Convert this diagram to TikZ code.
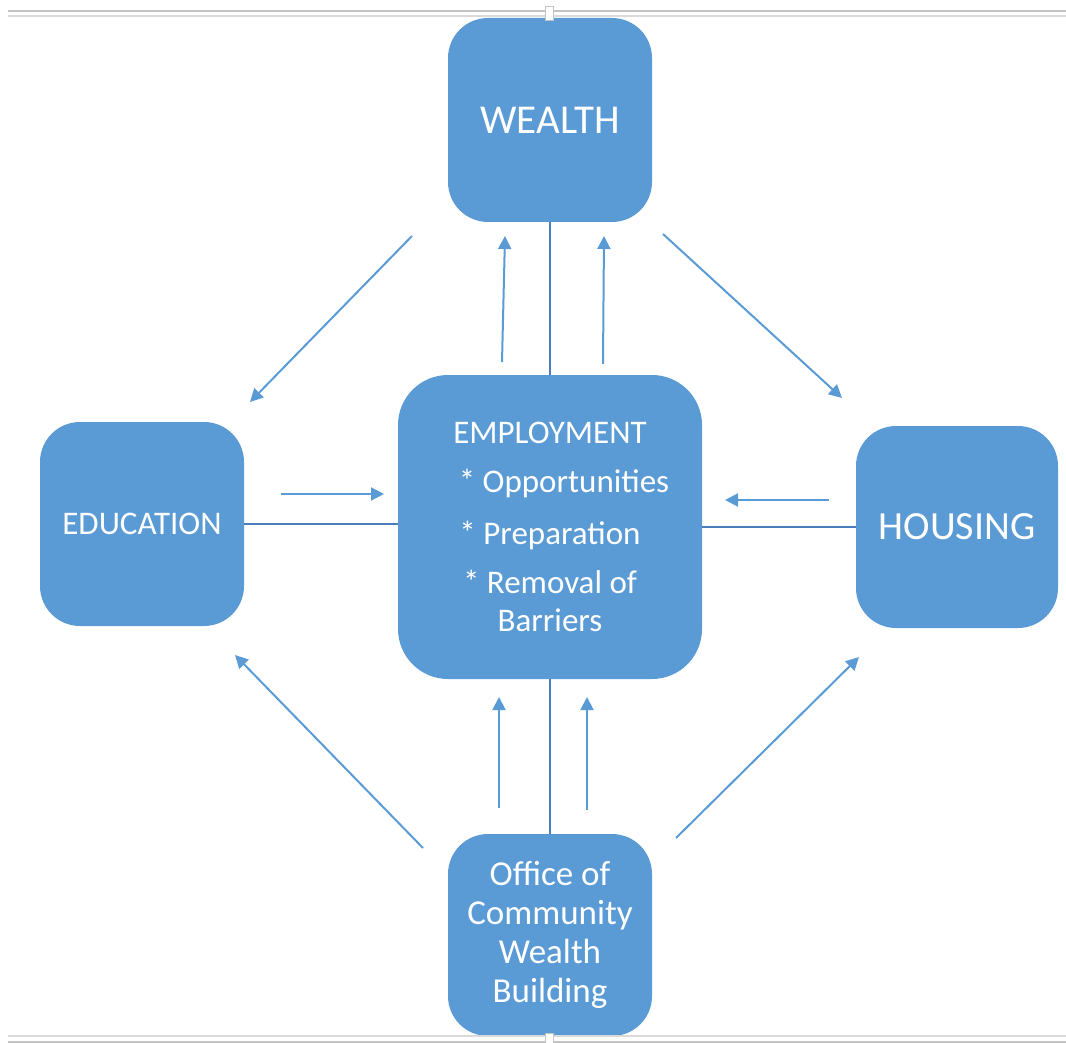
\documentclass[tikz,border=0pt]{standalone}
\usepackage{fontspec}
\setmainfont{Carlito}
\usetikzlibrary{arrows.meta}
\definecolor{boxblue}{HTML}{5B9BD5}
\definecolor{linkblue}{HTML}{4A7EBB}
\definecolor{ruleA}{HTML}{C4C4C4}
\definecolor{ruleB}{HTML}{DADADA}
\begin{document}
\begin{tikzpicture}[x=1pt,y=-1pt,
  box/.style={draw=none, fill=boxblue, rounded corners=40pt, inner sep=0pt, outer sep=0pt,
    text=white, align=center, minimum width=204pt, minimum height=204pt},
  link/.style={draw=linkblue, line width=2pt},
  arr/.style={draw=boxblue, line width=2pt, -{Triangle[length=13pt,width=13pt]}},
  ruleone/.style={draw=ruleA, line width=1.6pt},
  ruletwo/.style={draw=ruleB, line width=1.6pt},
  handle/.style={draw=ruleA, fill=white, line width=0.8pt, inner sep=0pt, minimum width=8pt, minimum height=14pt}]
\useasboundingbox (0,0) rectangle (1066,1043);

% boxes
\node[box, font=\fontsize{41}{48}\selectfont] (wealth) at (550,120) {WEALTH};
\node[box, minimum width=304pt, minimum height=304pt, rounded corners=50pt,
      font=\fontsize{33}{38}\selectfont] (emp) at (550,527)
  {EMPLOYMENT\\[11pt]\hspace*{28pt}* Opportunities\\[14pt]* Preparation\\[11pt]* Removal of\\Barriers};
\node[box, font=\fontsize{33}{39}\selectfont] (edu) at (142,524) {EDUCATION};
\node[box, minimum width=202pt, minimum height=202pt, font=\fontsize{40}{48}\selectfont] (hous) at (957,527) {HOUSING};
\node[box, minimum height=202pt, font=\fontsize{35}{39}\selectfont] (office) at (550,935)
  {Office of\\Community\\Wealth\\Building};

% straight links
\draw[link] (wealth.south) -- (emp.north);
\draw[link] (edu.east) -- (emp.west |- edu.east);
\draw[link] (hous.west) -- (emp.east |- hous.west);
\draw[link] (emp.south) -- (office.north);

% arrow end points
\coordinate (wa1s) at (502,362); \coordinate (wa1e) at (505,236);
\coordinate (wa2s) at (603,364); \coordinate (wa2e) at (604,236);
\coordinate (d1s) at (412,236);  \coordinate (d1e) at (250,402);
\coordinate (d2s) at (663,234);  \coordinate (d2e) at (842,398);
\coordinate (eas) at (281,494);  \coordinate (eae) at (384,494);
\coordinate (has) at (829,500);  \coordinate (hae) at (725,500);
\coordinate (ba1s) at (499,808); \coordinate (ba1e) at (499,697);
\coordinate (ba2s) at (587,810); \coordinate (ba2e) at (587,697);
\coordinate (d3s) at (423,848);  \coordinate (d3e) at (235,655);
\coordinate (d4s) at (676,838);  \coordinate (d4e) at (859,657);

\draw[arr] (wa1s) -- (wa1e);
\draw[arr] (wa2s) -- (wa2e);
\draw[arr] (d1s) -- (d1e);
\draw[arr] (d2s) -- (d2e);
\draw[arr] (eas) -- (eae);
\draw[arr] (has) -- (hae);
\draw[arr] (ba1s) -- (ba1e);
\draw[arr] (ba2s) -- (ba2e);
\draw[arr] (d3s) -- (d3e);
\draw[arr] (d4s) -- (d4e);

% page rules
\coordinate (rtl) at (8,11);   \coordinate (rtr) at (1066,11);
\coordinate (rtl2) at (8,16);  \coordinate (rtr2) at (1066,16);
\coordinate (rbl) at (8,1036); \coordinate (rbr) at (1066,1036);
\coordinate (rbl2) at (8,1042);\coordinate (rbr2) at (1066,1042);
\draw[ruleone] (rtl) -- (rtr);
\draw[ruletwo] (rtl2) -- (rtr2);
\draw[ruletwo] (rbl) -- (rbr);
\draw[ruleone] (rbl2) -- (rbr2);
\node[handle] (htop) at (549,13) {};
\node[handle] (hbot) at (549,1040) {};
\end{tikzpicture}
\end{document}
